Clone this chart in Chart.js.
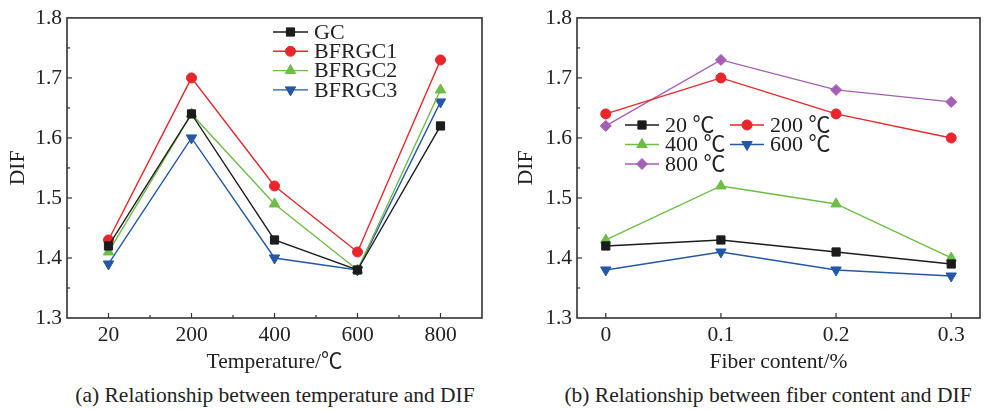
<!DOCTYPE html>
<html>
<head>
<meta charset="utf-8">
<script src="https://cdn.jsdelivr.net/npm/chart.js@4.4.1/dist/chart.umd.min.js"></script>
<style>
  body { margin: 0; background: #fff; width: 987px; height: 411px; position: relative; overflow: hidden; font-family: "Liberation Serif", "Noto Sans CJK SC", serif; }
  .panel { position: absolute; top: 0; }
  .cap { position: absolute; top: 383px; font-size: 21.5px; line-height: 24px; color: #222; white-space: nowrap; transform: translateX(-50%); }
</style>
</head>
<body>
<div class="panel" style="left:0"><canvas id="c1" width="490" height="375"></canvas></div>
<div class="panel" style="left:490px"><canvas id="c2" width="497" height="375"></canvas></div>
<div class="cap" style="left:275px">(a) Relationship between temperature and DIF</div>
<div class="cap" style="left:768px">(b) Relationship between fiber content and DIF</div>
<script>
// panel (a): DIF vs temperature
const tempLabels = ['20', '200', '400', '600', '800'];
const gc = [1.42, 1.64, 1.43, 1.38, 1.62];
const bfrgc1 = [1.43, 1.70, 1.52, 1.41, 1.73];
const bfrgc2 = [1.41, 1.64, 1.49, 1.38, 1.68];
const bfrgc3 = [1.39, 1.60, 1.40, 1.38, 1.66];

// panel (b): DIF vs fiber content
const fiber = [0, 0.1, 0.2, 0.3];
const fiberLabels = ['0', '0.1', '0.2', '0.3'];
const t20 = [1.42, 1.43, 1.41, 1.39];
const t200 = [1.64, 1.70, 1.64, 1.60];
const t400 = [1.43, 1.52, 1.49, 1.40];
const t600 = [1.38, 1.41, 1.38, 1.37];
const t800 = [1.62, 1.73, 1.68, 1.66];

const yTicks = [1.3, 1.4, 1.5, 1.6, 1.7, 1.8];

const BLACK = '#1c1c1c', RED = '#e8262b', GREEN = '#6dbd46', BLUE = '#2457a8', PURPLE = '#a55fb5';
const FONT = '"Liberation Serif", "Noto Sans CJK SC", serif';

Chart.defaults.font.family = FONT;
Chart.defaults.font.size = 21.5;
Chart.defaults.color = '#222';

function series(label, xs, ys, color, style, radius, rot) {
    return {
        label: label,
        data: ys.map((v, i) => ({ x: xs[i], y: v })),
        borderColor: color,
        backgroundColor: color,
        pointBackgroundColor: color,
        pointBorderColor: color,
        pointStyle: style,
        pointRotation: rot || 0,
        pointRadius: radius,
        pointBorderWidth: 1,
        borderWidth: 1.4,
        tension: 0,
        fill: false
    };
}

// box around plot + inward ticks
const frame = {
    id: 'frame',
    beforeDatasetsDraw(chart, args, opts) {
        const ctx = chart.ctx;
        const a = chart.chartArea;
        const xs = chart.scales.x, ys = chart.scales.y;
        ctx.save();
        ctx.strokeStyle = '#333';
        ctx.lineWidth = 1.2;
        // y ticks, major + minor halfway
        const yv = ys.ticks.map(t => t.value);
        yv.forEach((v, i) => {
            const p = ys.getPixelForValue(v);
            if (i > 0 && i < yv.length - 1) {
                ctx.beginPath(); ctx.moveTo(a.left, p); ctx.lineTo(a.left + 5, p); ctx.stroke();
            }
            if (i < yv.length - 1) {
                const m = ys.getPixelForValue((v + yv[i + 1]) / 2);
                ctx.beginPath(); ctx.moveTo(a.left, m); ctx.lineTo(a.left + 3, m); ctx.stroke();
            }
        });
        const xv = xs.ticks.map(t => t.value);
        xv.forEach((v, i) => {
            const p = xs.getPixelForValue(v);
            ctx.beginPath(); ctx.moveTo(p, a.bottom); ctx.lineTo(p, a.bottom - 5); ctx.stroke();
            if (opts.xMinor && i < xv.length - 1) {
                const m = xs.getPixelForValue((v + xv[i + 1]) / 2);
                ctx.beginPath(); ctx.moveTo(m, a.bottom); ctx.lineTo(m, a.bottom - 3); ctx.stroke();
            }
        });
        ctx.lineWidth = 1.6;
        ctx.strokeRect(a.left, a.top, a.right - a.left, a.bottom - a.top);
        ctx.restore();
    }
};

// legend with line + marker sample
const lineLegend = {
    id: 'lineLegend',
    afterDraw(chart, args, opts) {
        const ctx = chart.ctx;
        chart.data.datasets.forEach((ds, i) => {
            const col = i % opts.cols, row = Math.floor(i / opts.cols);
            const x = opts.x + col * opts.colW, y = opts.y + row * opts.rowH;
            ctx.save();
            ctx.strokeStyle = ds.borderColor;
            ctx.lineWidth = ds.borderWidth;
            ctx.beginPath(); ctx.moveTo(x, y); ctx.lineTo(x + opts.len, y); ctx.stroke();
            ctx.fillStyle = ds.pointBackgroundColor;
            ctx.lineWidth = 1;
            Chart.helpers.drawPoint(ctx, { pointStyle: ds.pointStyle, rotation: ds.pointRotation, radius: ds.pointRadius, borderWidth: 1 }, x + opts.len / 2, y);
            ctx.fillStyle = '#222';
            ctx.font = '22px ' + FONT;
            ctx.textBaseline = 'middle';
            ctx.fillText(ds.label, x + opts.len + 6, y + 1);
            ctx.restore();
        });
    }
};

function yScale(w, titlePad) {
    return {
        min: 1.3, max: 1.8,
        afterBuildTicks: s => { s.ticks = yTicks.map(v => ({ value: v })); },
        afterFit: s => { s.width = w; },
        ticks: { padding: 5, callback: v => v.toFixed(1) },
        grid: { display: false, drawTicks: false },
        border: { display: false },
        title: { display: true, text: 'DIF', padding: { top: titlePad, bottom: 0 } }
    };
}

new Chart(document.getElementById('c1'), {
    type: 'line',
    data: {
        datasets: [
            series('GC', [0, 1, 2, 3, 4], gc, BLACK, 'rect', 5.8),
            series('BFRGC1', [0, 1, 2, 3, 4], bfrgc1, RED, 'circle', 5),
            series('BFRGC2', [0, 1, 2, 3, 4], bfrgc2, GREEN, 'triangle', 6),
            series('BFRGC3', [0, 1, 2, 3, 4], bfrgc3, BLUE, 'triangle', 6, 180)
        ]
    },
    options: {
        responsive: false,
        animation: false,
        layout: { padding: { top: 14, right: 8, left: 0, bottom: 0 } },
        scales: {
            x: {
                type: 'linear', min: -0.5, max: 4.5,
                afterBuildTicks: s => { s.ticks = tempLabels.map((l, i) => ({ value: i })); },
                afterFit: s => { s.height = 57; },
                ticks: { padding: 4, callback: v => tempLabels[v] },
                grid: { display: false, drawTicks: false },
                border: { display: false },
                title: { display: true, text: 'Temperature/℃', padding: { top: 0, bottom: 0 } }
            },
            y: yScale(67, 5)
        },
        plugins: {
            legend: { display: false },
            tooltip: { enabled: false },
            frame: { xMinor: true },
            lineLegend: { x: 273, y: 32, cols: 1, colW: 0, rowH: 19.3, len: 35 }
        }
    },
    plugins: [frame, lineLegend]
});

new Chart(document.getElementById('c2'), {
    type: 'line',
    data: {
        datasets: [
            series('20 ℃', fiber, t20, BLACK, 'rect', 5.8),
            series('200 ℃', fiber, t200, RED, 'circle', 5),
            series('400 ℃', fiber, t400, GREEN, 'triangle', 6),
            series('600 ℃', fiber, t600, BLUE, 'triangle', 6, 180),
            series('800 ℃', fiber, t800, PURPLE, 'rectRot', 5.5)
        ]
    },
    options: {
        responsive: false,
        animation: false,
        layout: { padding: { top: 14, right: 1, left: 0, bottom: 0 } },
        scales: {
            x: {
                type: 'linear', min: -0.025, max: 0.325,
                afterBuildTicks: s => { s.ticks = fiber.map(v => ({ value: v })); },
                afterFit: s => { s.height = 57; },
                ticks: { padding: 4, callback: (v, i) => fiberLabels[i] },
                grid: { display: false, drawTicks: false },
                border: { display: false },
                title: { display: true, text: 'Fiber content/%', padding: { top: 0, bottom: 0 } }
            },
            y: yScale(87, 23)
        },
        plugins: {
            legend: { display: false },
            tooltip: { enabled: false },
            frame: { xMinor: false },
            lineLegend: { x: 135, y: 125, cols: 2, colW: 105, rowH: 19.5, len: 34 }
        }
    },
    plugins: [frame, lineLegend]
});
</script>
</body>
</html>
